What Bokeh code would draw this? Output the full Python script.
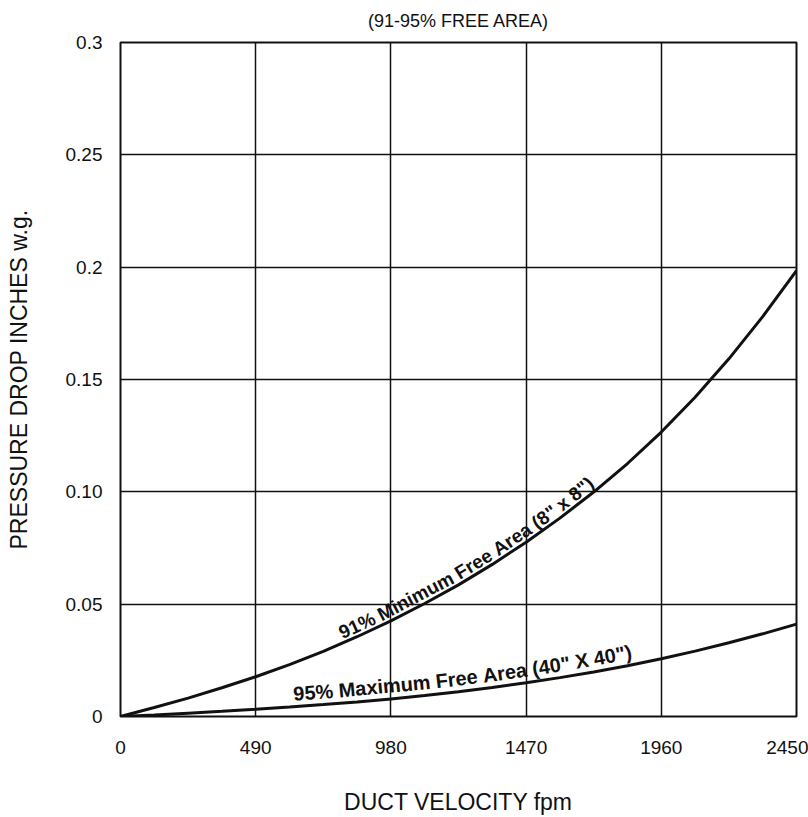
import math
import numpy as np
from bokeh.plotting import figure
from bokeh.models import Range1d, FixedTicker, ColumnDataSource
from bokeh.core.properties import value
from bokeh.embed import file_html
from bokeh.resources import INLINE

# ---------------- data ----------------
velocity = [0, 122.5, 245, 367.5, 490, 612.5, 735, 857.5, 980, 1102.5, 1225,
            1347.5, 1470, 1592.5, 1715, 1837.5, 1960, 2082.5, 2205, 2327.5, 2450]
drop_91 = [0, 0.0040, 0.0082, 0.0128, 0.0177, 0.0231, 0.0290, 0.0355, 0.0426, 0.0503, 0.0586,
           0.0677, 0.0776, 0.0883, 0.0999, 0.1126, 0.1266, 0.1421, 0.1592, 0.1780, 0.1985]
drop_95 = [0, 0.0007, 0.0015, 0.0023, 0.0032, 0.0042, 0.0053, 0.0065, 0.0078, 0.0093, 0.0110,
           0.0129, 0.0150, 0.0173, 0.0198, 0.0226, 0.0257, 0.0291, 0.0328, 0.0368, 0.0411]

x_ticks = [0, 490, 980, 1470, 1960, 2450]
x_tick_labels = ["0", "490", "980", "1470", "1960", "2450"]
y_ticks = [0, 0.05, 0.1, 0.15, 0.2, 0.25, 0.3]
y_tick_labels = ["0", "0.05", "0.10", "0.15", "0.2", "0.25", "0.3"]

label_91 = '91% Minimum Free Area (8" x 8")'
label_95 = '95% Maximum Free Area (40" X 40")'
title_text = "(91-95% FREE AREA)"
x_title = "DUCT VELOCITY fpm"
y_title = "PRESSURE DROP INCHES w.g."

# ---------------- layout ----------------
X_MAX, Y_MAX = 2450, 0.3
FRAME_W, FRAME_H = 676, 678
KX = FRAME_W / X_MAX
KY = FRAME_H / Y_MAX
FONT = "Liberation Sans"
INK = "#111111"

p = figure(width=808, height=817,
           x_range=Range1d(0, X_MAX), y_range=Range1d(0, Y_MAX),
           output_backend="svg", toolbar_location=None,
           min_border_left=120, min_border_right=12,
           min_border_top=42, min_border_bottom=97)
p.background_fill_color = "white"
p.border_fill_color = "white"
p.outline_line_color = INK
p.outline_line_width = 2

p.title.text = title_text
p.title.align = "center"
p.title.vertical_align = "top"
p.title.text_font = FONT
p.title.text_font_size = "18px"
p.title.text_font_style = "normal"
p.title.text_color = INK
p.title.standoff = 20

for ax in (p.xaxis, p.yaxis):
    ax.axis_line_color = None
    ax.major_tick_line_color = None
    ax.minor_tick_line_color = None
    ax.major_label_text_font = FONT
    ax.major_label_text_font_size = "19px"
    ax.major_label_text_color = INK
    ax.axis_label_text_font = FONT
    ax.axis_label_text_font_size = "23px"
    ax.axis_label_text_font_style = "normal"
    ax.axis_label_text_color = INK

p.xaxis.ticker = FixedTicker(ticks=x_ticks)
p.xaxis.major_label_overrides = {t: l for t, l in zip(x_ticks, x_tick_labels)}
p.xaxis.major_label_standoff = 18
p.xaxis.axis_label = x_title
p.xaxis.axis_label_standoff = 32

p.yaxis.ticker = FixedTicker(ticks=y_ticks)
p.yaxis.major_label_overrides = {t: l for t, l in zip(y_ticks, y_tick_labels)}
p.yaxis.major_label_standoff = 12
p.yaxis.axis_label = y_title
p.yaxis.axis_label_standoff = 31

p.xgrid.ticker = FixedTicker(ticks=x_ticks)
p.ygrid.ticker = FixedTicker(ticks=y_ticks)
p.grid.grid_line_color = INK
p.grid.grid_line_width = 1.5
p.grid.grid_line_alpha = 1.0

# curves
p.line(velocity, drop_91, line_width=3, line_color=INK)
p.line(velocity, drop_95, line_width=3, line_color=INK)

# ---------------- labels following the curves ----------------
BOLD_W = {'0': .556, '1': .556, '2': .556, '3': .556, '4': .556, '5': .556, '6': .556,
          '7': .556, '8': .556, '9': .556, '%': .889, ' ': .278, 'M': .833, 'i': .278,
          'n': .611, 'm': .889, 'u': .611, 'F': .611, 'r': .389, 'e': .556, 'A': .722,
          'a': .556, '(': .333, ')': .333, '"': .474, 'x': .556, 'X': .667}


def curve_words(vel, vals, text, v_start, fs, d):
    sx = np.array(vel, float) * KX
    sy = np.array(vals, float) * KY
    seg = np.hypot(np.diff(sx), np.diff(sy))
    cum = np.concatenate([[0.0], np.cumsum(seg)])

    def at(s):
        return np.interp(s, cum, sx), np.interp(s, cum, sy)

    s = float(np.interp(v_start, vel, cum))
    xs, ys, ts, angs = [], [], [], []
    for w in text.split(" "):
        width = sum(BOLD_W.get(c, .556) for c in w) * fs
        x0, y0 = at(s)
        x1, y1 = at(s + width)
        th = math.atan2(y1 - y0, x1 - x0)
        cx, cy = (x0 + x1) / 2, (y0 + y1) / 2
        cx += -math.sin(th) * d
        cy += math.cos(th) * d
        xs.append(cx / KX)
        ys.append(cy / KY)
        ts.append(w)
        angs.append(th)
        s += width + BOLD_W[' '] * fs
    return xs, ys, ts, angs


for vals, txt, v0, fs, d in [(drop_91, label_91, 810, 19, 10),
                            (drop_95, label_95, 630, 20, 13)]:
    xs, ys, ts, angs = curve_words(velocity, vals, txt, v0, fs, d)
    src = ColumnDataSource(dict(x=xs, y=ys, text=ts, angle=angs))
    p.text(x="x", y="y", text="text", angle="angle", source=src,
           text_align="center", text_baseline="alphabetic",
           text_font=value(FONT), text_font_style="bold",
           text_font_size=value(f"{fs}px"), text_color=INK)

open("out.html", "w").write(file_html(p, INLINE))
